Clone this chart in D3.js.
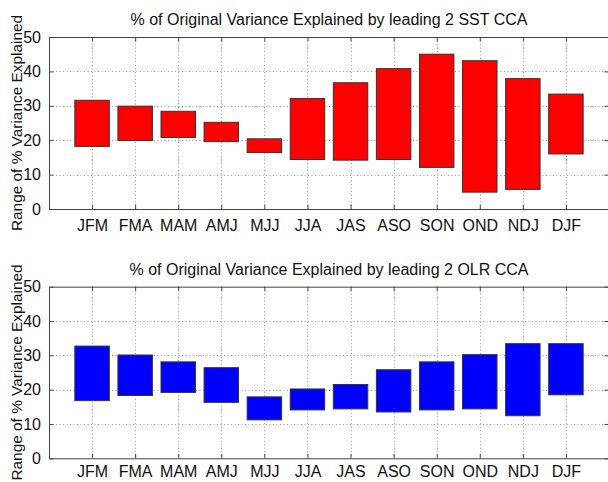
<!DOCTYPE html>
<html>
<head>
<meta charset="utf-8">
<script src="https://cdn.jsdelivr.net/npm/d3@7"></script>
<style>
  html, body { margin: 0; padding: 0; background: #fff; }
  svg { display: block; font-family: "Liberation Sans", Arial, Helvetica, sans-serif; }
</style>
</head>
<body>
<svg id="chart" width="608" height="482"></svg>
<script>
// Three-month seasons along the x axis
const seasons = ["JFM", "FMA", "MAM", "AMJ", "MJJ", "JJA", "JAS", "ASO", "SON", "OND", "NDJ", "DJF"];

// Range (low / high) of % variance explained, SST CCA
const sstLow  = [18.2, 19.9, 20.8, 19.6, 16.4, 14.4, 14.2, 14.4, 12.1, 4.9, 5.7, 16.0];
const sstHigh = [31.6, 29.9, 28.4, 25.2, 20.4, 32.1, 36.7, 40.8, 45.0, 43.1, 37.9, 33.4];

// Range (low / high) of % variance explained, OLR CCA
const olrLow  = [16.8, 18.3, 19.2, 16.3, 11.2, 14.1, 14.4, 13.5, 14.1, 14.4, 12.4, 18.5];
const olrHigh = [32.7, 30.1, 28.1, 26.4, 17.9, 20.2, 21.5, 25.8, 28.1, 30.2, 33.4, 33.4];

const yTicks = [0, 10, 20, 30, 40, 50];

const panels = [
  { title: "% of Original Variance Explained by leading 2 SST CCA", low: sstLow, high: sstHigh, color: "#ff0000", top: 37, bottom: 209, labelPad: 11 },
  { title: "% of Original Variance Explained by leading 2 OLR CCA", low: olrLow, high: olrHigh, color: "#0000ff", top: 286.7, bottom: 458.3, labelPad: 7.5 }
];

const svg = d3.select("#chart");
const left = 49, right = 609;
const barFrac = 0.8;
const tickLen = 4.5;

const x = d3.scaleLinear().domain([0, seasons.length + 1]).range([left, right]);
const xPos = seasons.map((s, i) => i + 1);
const band = x(1) - x(0);

panels.forEach(p => {
  const y = d3.scaleLinear().domain([0, 50]).range([p.bottom, p.top]);
  const g = svg.append("g");

  // dotted grid
  const grid = g.append("g").attr("stroke", "#9a9a9a").attr("stroke-width", 1).attr("stroke-dasharray", "1,2.5");
  grid.selectAll("line.h").data(yTicks.filter(t => t > 0 && t < 50)).join("line")
    .attr("x1", left).attr("x2", right)
    .attr("y1", d => Math.round(y(d)) + 0.5).attr("y2", d => Math.round(y(d)) + 0.5);
  grid.selectAll("line.v").data(xPos).join("line")
    .attr("x1", d => Math.round(x(d)) + 0.5).attr("x2", d => Math.round(x(d)) + 0.5)
    .attr("y1", p.top).attr("y2", p.bottom);

  // floating range bars
  g.append("g").selectAll("rect").data(seasons).join("rect")
    .attr("x", (d, i) => x(xPos[i]) - band * barFrac / 2)
    .attr("width", band * barFrac)
    .attr("y", (d, i) => y(p.high[i]))
    .attr("height", (d, i) => y(p.low[i]) - y(p.high[i]))
    .attr("fill", p.color)
    .attr("stroke", "#333")
    .attr("stroke-width", 1);

  // axes with inward ticks
  const axB = d3.axisBottom(x).tickValues(xPos).tickFormat((d, i) => seasons[i]).tickSizeInner(-tickLen).tickSizeOuter(0).tickPadding(p.labelPad);
  const axT = d3.axisTop(x).tickValues(xPos).tickFormat("").tickSizeInner(-tickLen).tickSizeOuter(0);
  const axL = d3.axisLeft(y).tickValues(yTicks).tickSizeInner(-tickLen).tickSizeOuter(0).tickPadding(8);
  const axR = d3.axisRight(y).tickValues(yTicks).tickFormat("").tickSizeInner(-tickLen).tickSizeOuter(0);

  const style = sel => {
    sel.selectAll(".domain").attr("stroke", "#444");
    sel.selectAll(".tick line").attr("stroke", "#444");
    sel.selectAll("text").attr("fill", "#111").attr("font-size", "16px")
      .attr("font-family", "'Liberation Sans', Arial, Helvetica, sans-serif");
  };
  g.append("g").attr("transform", `translate(0,${p.bottom})`).call(axB).call(style);
  g.append("g").attr("transform", `translate(0,${p.top})`).call(axT).call(style);
  g.append("g").attr("transform", `translate(${left},0)`).call(axL).call(style);
  g.append("g").attr("transform", `translate(${right},0)`).call(axR).call(style);

  // title
  g.append("text")
    .attr("x", (left + right) / 2).attr("y", p.top - 12)
    .attr("text-anchor", "middle").attr("font-size", "16px").attr("fill", "#111")
    .text(p.title);

  // y-axis label
  g.append("text")
    .attr("transform", `translate(22,${(p.top + p.bottom) / 2}) rotate(-90)`)
    .attr("text-anchor", "middle").attr("font-size", "15.4px").attr("fill", "#111")
    .text("Range of % Variance Explained");
});
</script>
</body>
</html>
